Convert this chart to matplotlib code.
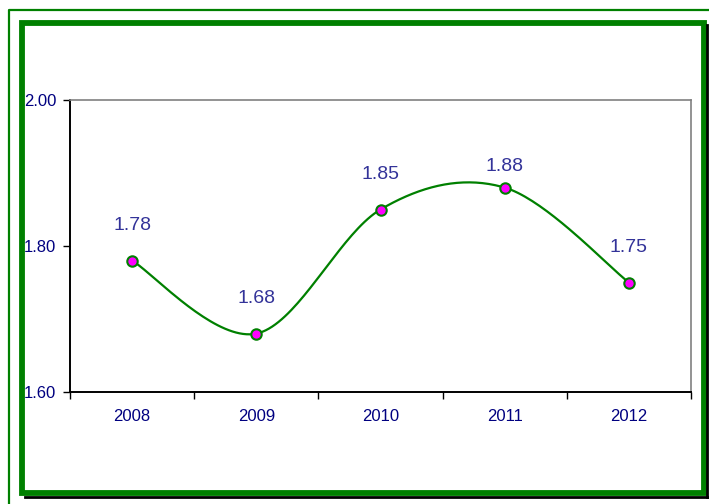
import numpy as np
import matplotlib
matplotlib.use("Agg")
import matplotlib.pyplot as plt
from matplotlib.lines import Line2D
from matplotlib.patches import Rectangle

# datos
years = ["2008", "2009", "2010", "2011", "2012"]
values = [1.78, 1.68, 1.85, 1.88, 1.75]
y_ticks = [1.60, 1.80, 2.00]

# desplazamiento vertical de las etiquetas (puntos)
label_offsets = [25.5, 25.5, 25.5, 15, 25.5]

plt.rcParams['font.family'] = ['Liberation Sans', 'DejaVu Sans']

W, H = 709, 504
fig = plt.figure(figsize=(W / 100, H / 100), dpi=100)


def fx(px):
    return px / W


def fy(py):
    return 1 - py / H


ax = fig.add_axes([fx(70), fy(392), fx(691) - fx(70), fy(100) - fy(392)])

# curva suavizada estilo Excel (Bezier con puntos de control a 1/6)
x = np.arange(len(values), dtype=float)
y = np.array(values)
pts = np.column_stack([x, y])
curve = []
t = np.linspace(0, 1, 40)
for i in range(len(pts) - 1):
    p0 = pts[max(i - 1, 0)]
    p1 = pts[i]
    p2 = pts[i + 1]
    p3 = pts[min(i + 2, len(pts) - 1)]
    c1 = p1 + (p2 - p0) / 6
    c2 = p2 - (p3 - p1) / 6
    seg = ((1 - t) ** 3)[:, None] * p1 + (3 * (1 - t) ** 2 * t)[:, None] * c1 \
        + (3 * (1 - t) * t ** 2)[:, None] * c2 + (t ** 3)[:, None] * p2
    curve.append(seg)
curve = np.vstack(curve)

ax.plot(curve[:, 0], curve[:, 1], color="#008000", lw=1.6, zorder=3)
ax.plot(x, y, ls="none", marker="o", ms=7.5, mfc="#ff00ff", mec="#008000",
        mew=1.5, zorder=4)

for xi, v, off in zip(x, values, label_offsets):
    ax.annotate(f"{v:.2f}", (xi, v), xytext=(0, off), textcoords="offset points",
                ha="center", va="center", fontsize=14, color="#333399")

ax.set_xlim(-0.5, len(years) - 0.5)
ax.set_ylim(1.6, 2.0)

ax.set_yticks(y_ticks)
ax.set_yticklabels([f"{v:.2f}" for v in y_ticks])
ax.tick_params(axis="y", direction="out", length=5, width=1, pad=5,
               labelsize=12, labelcolor="#000080")

ax.set_xticks(np.arange(-0.5, len(years), 1.0))
ax.set_xticklabels([])
ax.tick_params(axis="x", which="major", direction="out", length=5, width=1)
ax.set_xticks(x, minor=True)
ax.set_xticklabels(years, minor=True)
ax.tick_params(axis="x", which="minor", length=0, pad=12, labelsize=12,
               labelcolor="#000080")

for s in ["left", "bottom"]:
    ax.spines[s].set_color("black")
    ax.spines[s].set_linewidth(1.4)
for s in ["top", "right"]:
    ax.spines[s].set_color("#808080")
    ax.spines[s].set_linewidth(1.2)

# marco verde
fig.add_artist(Line2D([fx(8.5), fx(8.5), fx(W + 5)], [fy(H + 5), fy(10), fy(10)],
                      color="#008000", lw=1.6, transform=fig.transFigure))
fig.add_artist(Line2D([fx(707), fx(707)], [fy(25), fy(497)], color="black",
                      lw=2, transform=fig.transFigure))
fig.add_artist(Line2D([fx(25), fx(708)], [fy(496.5), fy(496.5)], color="black",
                      lw=2, transform=fig.transFigure))
fig.add_artist(Rectangle((fx(21.5), fy(492.5)), fx(704) - fx(21.5),
                         fy(22.5) - fy(492.5), fill=False, ec="#008000",
                         lw=4.2, transform=fig.transFigure, joinstyle="miter"))

fig.savefig("out.png", dpi=100)
